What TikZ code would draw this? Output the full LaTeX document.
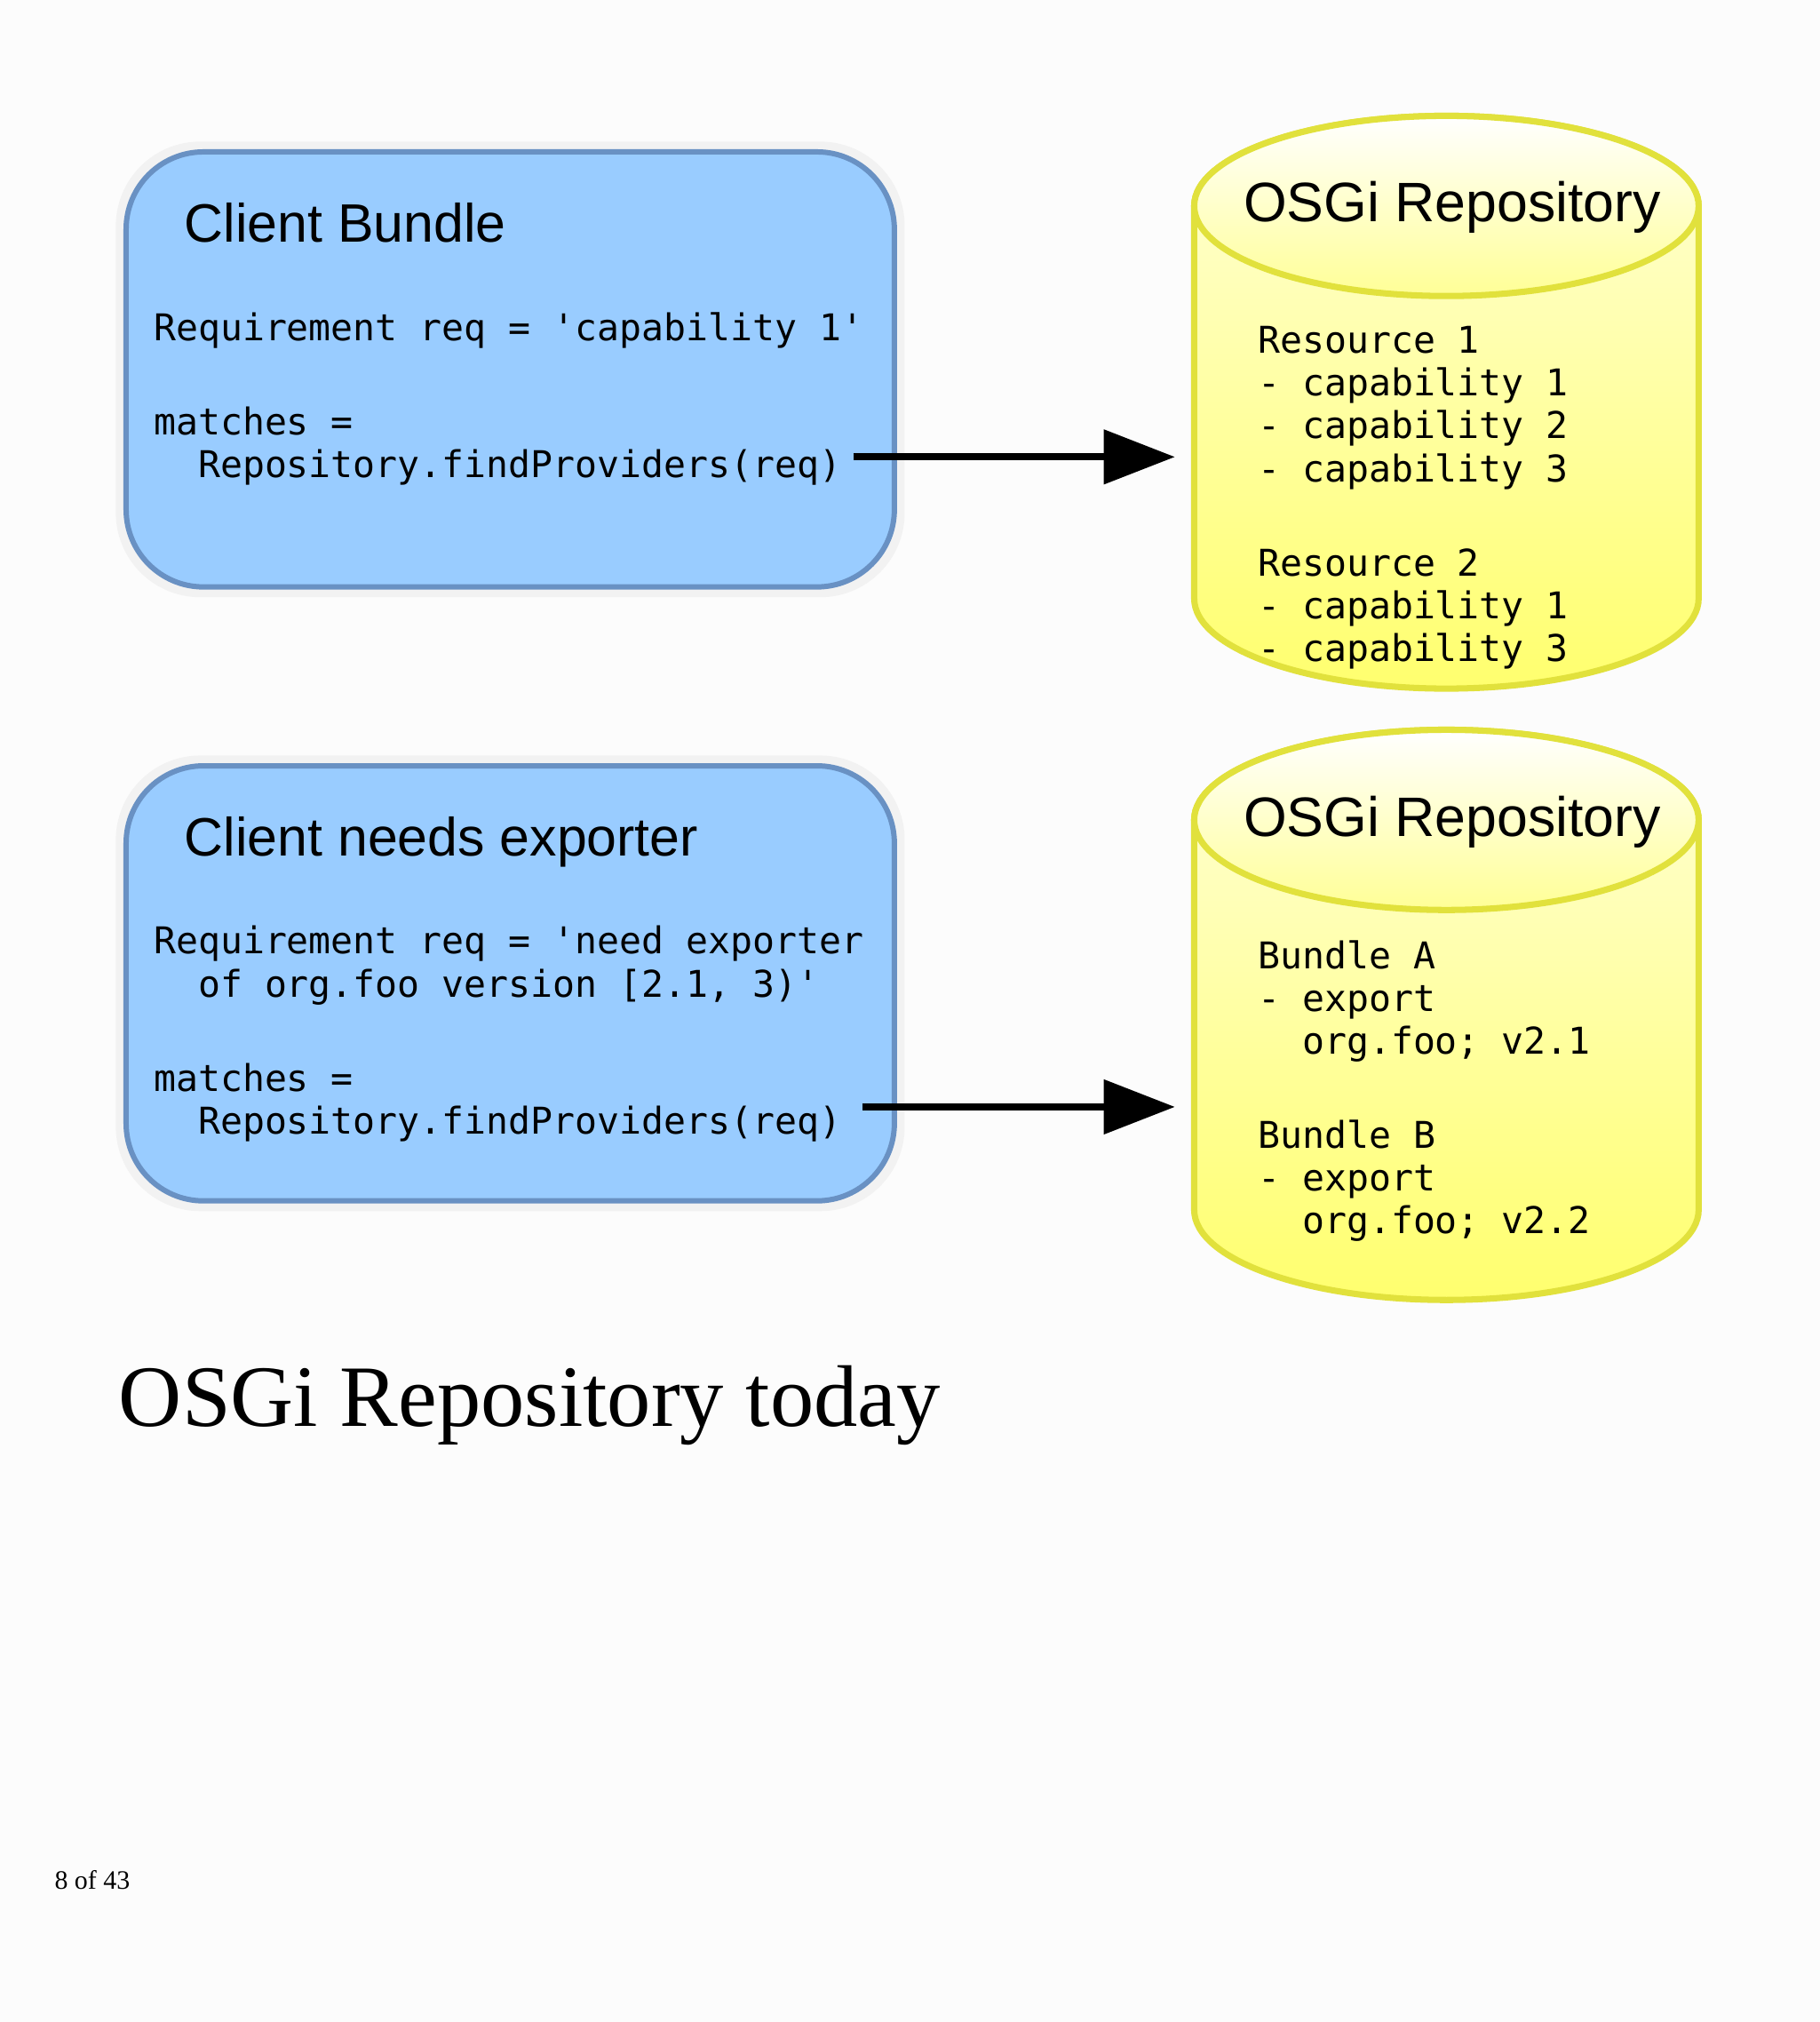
\documentclass[tikz,border=0pt]{standalone}
\usepackage{fontspec}
\setmainfont{Liberation Serif}
\newfontfamily\titlefont{Liberation Sans}
\newfontfamily\codefont{DejaVu Sans Mono}
\usetikzlibrary{arrows.meta, positioning}

\tikzset{
  client/.style={draw={rgb,255:red,105;green,145;blue,195}, line width=1.7pt, fill={rgb,255:red,153;green,204;blue,255}, rounded corners=0.87cm},
  halo/.style={fill=gray!10, rounded corners=0.95cm},
  repo/.style={draw={rgb,255:red,225;green,225;blue,60}, line width=2pt, top color={rgb,255:red,255;green,255;blue,215}, bottom color={rgb,255:red,255;green,255;blue,110}},
  lid/.style={draw={rgb,255:red,225;green,225;blue,60}, line width=2pt, top color=white, bottom color={rgb,255:red,255;green,255;blue,150}},
  head/.style={anchor=base west, inner sep=0, font=\titlefont\fontsize{17.3}{20}\selectfont},
  code/.style={anchor=north west, align=left, inner sep=0, font=\codefont\fontsize{11.8}{13.7}\selectfont},
  call/.style={line width=2.2pt, -{Triangle[length=0.8cm, width=0.6cm]}}
}

\begin{document}
\begin{tikzpicture}[x=0.01448cm, y=-0.01448cm]
  \fill[white!98!gray] (0,0) rectangle (1414,1571);
  \useasboundingbox (0,0) rectangle (1414,1571);

  % client bundle
  \fill[halo] (90,110) rectangle (703,464);
  \draw[client] (98,118) rectangle (695,456);
  \node[head] (client_title) at (143,188) {Client Bundle};
  \node[code] (client_code) at (119,242) {Requirement req = 'capability 1'\\[16.5pt]matches =\\\ \ Repository.findProviders(req)};
  \coordinate (client_out) at (663,355);

  % repository with resources
  \draw[repo] (928,160) -- (928,465) arc[start angle=180, end angle=0, x radius=196, y radius=70] -- (1320,160) arc[start angle=0, end angle=-180, x radius=196, y radius=70];
  \draw[lid] (1124,160) ellipse[x radius=196, y radius=70];
  \node[head, font=\titlefont\fontsize{17.8}{20}\selectfont] (repo_title) at (966,172) {OSGi Repository};
  \node[code] (repo_code) at (977,253) {Resource 1\\- capability 1\\- capability 2\\- capability 3\\[16.5pt]Resource 2\\- capability 1\\- capability 3};
  \coordinate (repo_in) at (913,355);

  % client needs exporter
  \fill[halo] (90,587) rectangle (703,941);
  \draw[client] (98,595) rectangle (695,933);
  \node[head] (export_title) at (143,665) {Client needs exporter};
  \node[code] (export_code) at (119,719) {Requirement req = 'need exporter\\\ \ of org.foo version [2.1, 3)'\\[16.5pt]matches =\\\ \ Repository.findProviders(req)};
  \coordinate (export_out) at (670,860);

  % repository with bundles
  \draw[repo] (928,637) -- (928,940) arc[start angle=180, end angle=0, x radius=196, y radius=70] -- (1320,637) arc[start angle=0, end angle=-180, x radius=196, y radius=70];
  \draw[lid] (1124,637) ellipse[x radius=196, y radius=70];
  \node[head, font=\titlefont\fontsize{17.8}{20}\selectfont] (bundle_title) at (966,650) {OSGi Repository};
  \node[code] (bundle_code) at (977,730) {Bundle A\\- export\\\ \ org.foo; v2.1\\[16.5pt]Bundle B\\- export\\\ \ org.foo; v2.2};
  \coordinate (bundle_in) at (913,860);

  % paths
  \draw[call] (client_out) -- (repo_in);
  \draw[call] (export_out) -- (bundle_in);

  % caption
  \node[anchor=base west, inner sep=0, font=\fontsize{28}{32}\selectfont] (caption) at (92,1108) {OSGi Repository today};
  \node[anchor=base west, inner sep=0, font=\fontsize{8.5}{10}\selectfont] (page) at (42,1468) {8 of 43};
\end{tikzpicture}
\end{document}
